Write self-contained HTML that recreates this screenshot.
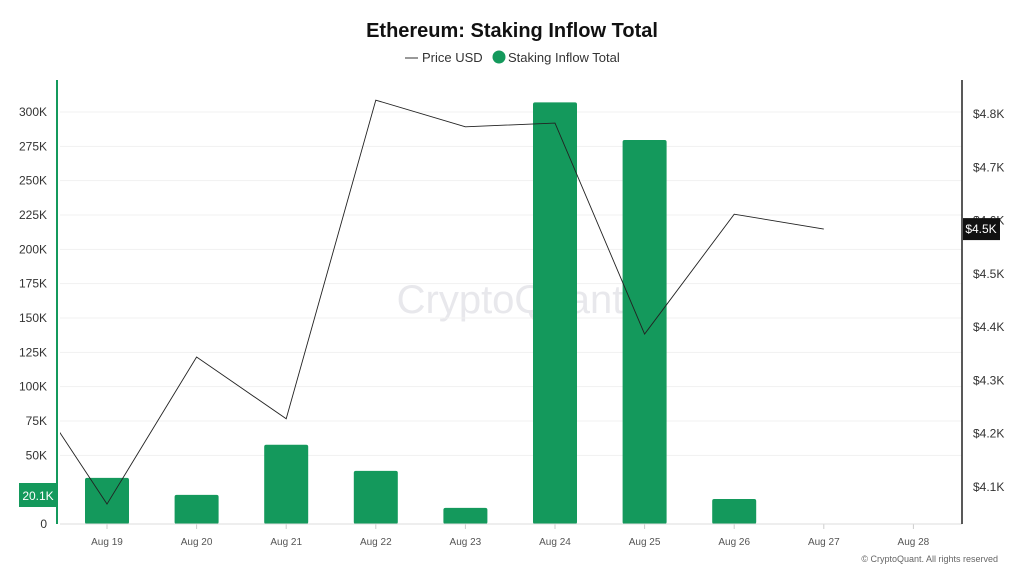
<!DOCTYPE html>
<html><head><meta charset="utf-8"><style>
body{margin:0;background:#fff;font-family:"Liberation Sans",sans-serif}
svg text{font-family:"Liberation Sans",sans-serif}
</style></head><body>
<svg id="c" width="1024" height="576" xmlns="http://www.w3.org/2000/svg">
<text x="512" y="37" text-anchor="middle" font-size="20" font-weight="bold" fill="#111">Ethereum: Staking Inflow Total</text>
<g>
<line x1="405" y1="58" x2="418" y2="58" stroke="#333" stroke-width="1"/>
<text x="422" y="62" font-size="13" fill="#333">Price USD</text>
<circle cx="499" cy="57" r="6.5" fill="#14995c"/>
<text x="508" y="62" font-size="13" fill="#333">Staking Inflow Total</text>
</g>
<text x="510" y="313" text-anchor="middle" font-size="40" fill="#e8e8ec">CryptoQuant</text>
<g id="grid"></g><g id="bars"></g><g id="line"></g><g id="axes"></g>
<text x="998" y="562" text-anchor="end" font-size="9" fill="#666">© CryptoQuant. All rights reserved</text>
</svg>
<script>
const categories=["Aug 19","Aug 20","Aug 21","Aug 22","Aug 23","Aug 24","Aug 25","Aug 26","Aug 27","Aug 28"];
const inflow=[33600,21200,57700,38700,11700,307000,279600,18200,0,0];
const priceCats=["Aug 18","Aug 19","Aug 20","Aug 21","Aug 22","Aug 23","Aug 24","Aug 25","Aug 26","Aug 27"];
const price=[4323,4068,4344,4228,4826,4776,4783,4387,4612,4584];
const leftTicks=[0,50000,75000,100000,125000,150000,175000,200000,225000,250000,275000,300000];
const rightTicks=[4100,4200,4300,4400,4500,4600,4700,4800];
const NS="http://www.w3.org/2000/svg";
const PL=60,PR=962,PT=80,PB=524;
const xC=i=>107+i*89.6;
const yL=v=>PB-v*(PB-112)/300000;
const yR=v=>114+(4800-v)*(487-114)/700;
function mk(t,a,p){const e=document.createElementNS(NS,t);for(const k in a)e.setAttribute(k,a[k]);p.appendChild(e);return e;}
const grid=document.getElementById('grid'),bars=document.getElementById('bars'),line=document.getElementById('line'),axes=document.getElementById('axes');
leftTicks.forEach(v=>{const g=mk('line',{x1:PL,x2:PR,y1:yL(v),y2:yL(v),stroke:'#f1f1f1'},grid);


const t=mk('text',{x:47,y:yL(v)+4,'text-anchor':'end','font-size':12,fill:'#333'},axes);t.textContent=v===0?'0':(v/1000)+'K';

});
rightTicks.forEach(v=>{const t=mk('text',{x:973,y:yR(v)+4,'font-size':12,fill:'#333'},axes);t.textContent='$'+(v/1000).toFixed(1)+'K';

});
categories.forEach((c,i)=>{const t=mk('text',{x:xC(i),y:545,'text-anchor':'middle','font-size':10,fill:'#555'},axes);t.textContent=c;


const tk=mk('line',{x1:xC(i),x2:xC(i),y1:PB,y2:PB+5,stroke:'#ccc'},axes);


if(inflow[i]>0){const b=mk('rect',{x:xC(i)-22,y:yL(inflow[i]),width:44,height:PB-yL(inflow[i]),fill:'#14995c',rx:2},bars);

}});
const cp=mk('clipPath',{id:'cl'},line);mk('rect',{x:PL,y:0,width:PR-PL,height:576},cp);
const pts=price.map((v,i)=>xC(i-1)+','+yR(v)).join(' ');
const pl=mk('polyline',{points:pts,fill:'none',stroke:'#222','stroke-width':0.9,'clip-path':'url(#cl)'},line);


const bl=mk('line',{x1:PL,x2:PR,y1:PB,y2:PB,stroke:'#ddd'},axes);


const la=mk('line',{x1:57,x2:57,y1:PT,y2:PB,stroke:'#14995c','stroke-width':2},axes);


const ra=mk('line',{x1:962,x2:962,y1:PT,y2:PB,stroke:'#222','stroke-width':1.5},axes);


const gb=mk('rect',{x:19,y:483,width:38,height:24,fill:'#14995c'},axes);


const gt=mk('text',{x:38,y:500,'text-anchor':'middle','font-size':12,fill:'#fff'},axes);gt.textContent='20.1K';


const py=yR(price[price.length-1]);
const pb=mk('rect',{x:963,y:py-11,width:37,height:22,fill:'#111'},axes);


const pt=mk('text',{x:981,y:py+4,'text-anchor':'middle','font-size':12,fill:'#fff'},axes);pt.textContent='$4.5K';


</script>
</body></html>
